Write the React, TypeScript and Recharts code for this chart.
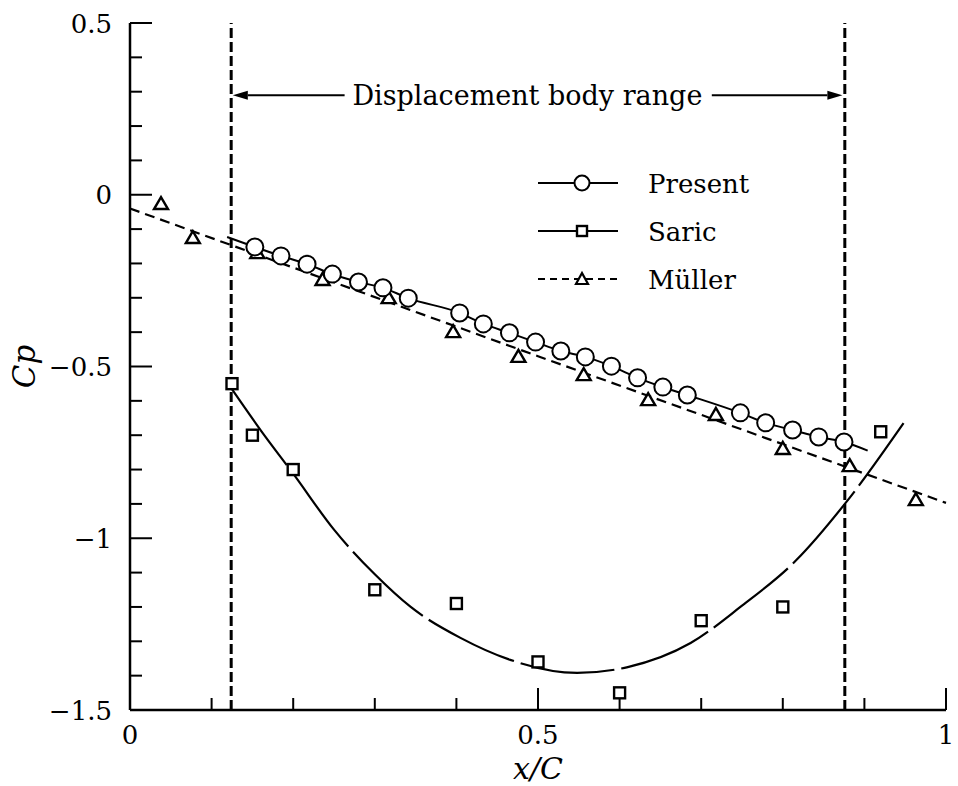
import React from 'react';
import {
  ComposedChart,
  Line,
  Scatter,
  XAxis,
  YAxis,
  ReferenceLine,
  ReferenceDot,
  Legend,
} from 'recharts';

const FONT = "'DejaVu Serif', serif";
const txt = { fontFamily: FONT, fill: '#000' };

// axis ticks (every 0.1) and the labelled ones
const xTicks = [0, 0.1, 0.2, 0.3, 0.4, 0.5, 0.6, 0.7, 0.8, 0.9, 1];
const yTicks = [
  -1.5, -1.4, -1.3, -1.2, -1.1, -1, -0.9, -0.8, -0.7, -0.6, -0.5, -0.4, -0.3, -0.2, -0.1, 0, 0.1, 0.2,
  0.3, 0.4, 0.5,
];
const xLabels = [0, 0.5, 1];
const yLabels = [-1.5, -1, -0.5, 0, 0.5];

// Present (circles) and its solid line
const presentX = [
  0.153, 0.185, 0.217, 0.248, 0.28, 0.31, 0.341, 0.404, 0.433, 0.465, 0.497, 0.528, 0.558, 0.59, 0.622,
  0.653, 0.683, 0.748, 0.779, 0.812, 0.844, 0.875,
];
const presentCp = [
  -0.152, -0.178, -0.202, -0.231, -0.254, -0.271, -0.301, -0.344, -0.376, -0.402, -0.429, -0.455, -0.472,
  -0.499, -0.533, -0.56, -0.583, -0.635, -0.664, -0.685, -0.705, -0.72,
];
const presentEndsX = [0.119, 0.904];
const presentEndsCp = [-0.123, -0.745];

// Saric (squares) and its long-dash curve
const saricX = [0.125, 0.15, 0.2, 0.3, 0.4, 0.5, 0.6, 0.7, 0.8, 0.92];
const saricCp = [-0.55, -0.7, -0.8, -1.15, -1.19, -1.36, -1.45, -1.24, -1.2, -0.69];
const saricCurveX = [
  0.124, 0.16, 0.2, 0.25, 0.3, 0.344, 0.405, 0.466, 0.548, 0.61, 0.687, 0.748, 0.816, 0.877, 0.948,
];
const saricCurveCp = [
  -0.563, -0.685, -0.812, -0.975, -1.105, -1.2, -1.29, -1.354, -1.392, -1.375, -1.305, -1.2, -1.065, -0.897,
  -0.665,
];

// Müller (triangles) and its dashed line
const mullerX = [0.038, 0.077, 0.156, 0.236, 0.317, 0.396, 0.476, 0.556, 0.635, 0.718, 0.8, 0.882, 0.963];
const mullerCp = [
  -0.027, -0.126, -0.17, -0.248, -0.301, -0.4, -0.472, -0.525, -0.598, -0.641, -0.74, -0.79, -0.889,
];
const mullerLineX = [0, 0.5, 1];
const mullerLineCp = [-0.04, -0.47, -0.897];

// displacement body range
const rangeX = [0.124, 0.876];
const arrowCp = 0.29;
const arrowLeftX = [0.263, 0.126];
const arrowRightX = [0.713, 0.873];
const rangeLabelX = 0.487;
const rangeLabel = 'Displacement body range';

const legendNames = ['Present', 'Saric', 'Müller'];

const zip = (xs: number[], ys: number[]) => xs.map((x, i) => ({ x, y: ys[i] }));

const present = zip(presentX, presentCp);
const presentLine = [
  { x: presentEndsX[0], y: presentEndsCp[0] },
  ...present,
  { x: presentEndsX[1], y: presentEndsCp[1] },
];
const saric = zip(saricX, saricCp);
const saricCurve = zip(saricCurveX, saricCurveCp);
const muller = zip(mullerX, mullerCp);
const mullerLine = zip(mullerLineX, mullerLineCp);

const isIn = (v: number, list: number[]) => list.some((m) => Math.abs(m - v) < 1e-6);
const fmt = (v: number) => (v < -1e-9 ? '\u2212' : '') + String(Math.abs(Number(v.toFixed(2))));

const MINOR = 12;
const MAJOR = 22;

const BottomTick = (p: any) => {
  const v = p.payload.value;
  const major = isIn(v, xLabels);
  return (
    <g>
      <line x1={p.x} x2={p.x} y1={p.y} y2={p.y - (major ? MAJOR : MINOR)} stroke="#000" strokeWidth={2} />
      {major && (
        <text x={p.x} y={p.y + 34} textAnchor="middle" fontSize={26} style={txt}>
          {fmt(v)}
        </text>
      )}
    </g>
  );
};

const TopTick = (p: any) => {
  const major = isIn(p.payload.value, xLabels);
  return <line x1={p.x} x2={p.x} y1={p.y} y2={p.y + (major ? MAJOR : MINOR)} stroke="#000" strokeWidth={2} />;
};

const LeftTick = (p: any) => {
  const v = p.payload.value;
  const major = isIn(v, yLabels);
  return (
    <g>
      <line x1={p.x} x2={p.x + (major ? MAJOR : MINOR)} y1={p.y} y2={p.y} stroke="#000" strokeWidth={2} />
      {major && (
        <text x={p.x - 18} y={p.y + 9.5} textAnchor="end" fontSize={26} style={txt}>
          {fmt(v)}
        </text>
      )}
    </g>
  );
};

const RightTick = (p: any) => {
  const major = isIn(p.payload.value, yLabels);
  return <line x1={p.x} x2={p.x - (major ? MAJOR : MINOR)} y1={p.y} y2={p.y} stroke="#000" strokeWidth={2} />;
};

const CircleMark = (p: any) => (
  <circle cx={p.cx} cy={p.cy} r={8.5} fill="#fff" stroke="#000" strokeWidth={2} />
);
const SquareMark = (p: any) => (
  <rect x={p.cx - 5.5} y={p.cy - 5.5} width={11} height={11} fill="#fff" stroke="#000" strokeWidth={2.4} />
);
const TriangleMark = (p: any) => (
  <polygon
    points={`${p.cx},${p.cy - 7} ${p.cx - 7},${p.cy + 5} ${p.cx + 7},${p.cy + 5}`}
    fill="#fff"
    stroke="#000"
    strokeWidth={2.4}
  />
);

const Arrow = (p: any) => {
  const { x1, y1, x2, y2 } = p;
  const dir = Math.sign(x2 - x1);
  const head = 15;
  return (
    <g>
      <line x1={x1} y1={y1} x2={x2 - dir * head} y2={y2} stroke="#000" strokeWidth={2} />
      <polygon
        points={`${x2},${y2} ${x2 - dir * head},${y2 - 4.5} ${x2 - dir * head},${y2 + 4.5}`}
        fill="#000"
      />
    </g>
  );
};

const LegendBox = () => {
  const rows = [
    { dash: undefined, mark: (cx: number, cy: number) => <circle cx={cx} cy={cy} r={7.5} fill="#fff" stroke="#000" strokeWidth={2} /> },
    { dash: undefined, mark: (cx: number, cy: number) => <rect x={cx - 5} y={cy - 5} width={10} height={10} fill="#fff" stroke="#000" strokeWidth={2.4} /> },
    {
      dash: '7 5',
      mark: (cx: number, cy: number) => (
        <polygon points={`${cx},${cy - 6} ${cx - 6},${cy + 5} ${cx + 6},${cy + 5}`} fill="#fff" stroke="#000" strokeWidth={2.2} />
      ),
    },
  ];
  return (
    <svg width={260} height={150}>
      {legendNames.map((name, i) => {
        const cy = 28 + i * 48;
        return (
          <g key={name}>
            <line x1={8} x2={88} y1={cy} y2={cy} stroke="#000" strokeWidth={2} strokeDasharray={rows[i].dash} />
            {rows[i].mark(52, cy)}
            <text x={118} y={cy + 9.5} fontSize={26} style={txt}>
              {name}
            </text>
          </g>
        );
      })}
    </svg>
  );
};

export default function App() {
  return (
    <div style={{ position: 'absolute', left: 0, top: 0, background: '#fff' }}>
      <ComposedChart width={958} height={786} margin={{ top: 23, right: 12, left: 0, bottom: 0 }}>
        <XAxis
          xAxisId={0}
          dataKey="x"
          type="number"
          domain={[0, 1]}
          ticks={xTicks}
          interval={0}
          height={76}
          tickSize={0}
          tickMargin={0}
          tick={BottomTick}
          axisLine={{ stroke: '#000', strokeWidth: 2.5 }}
          label={(p: any) => (
            <text
              x={p.viewBox.x + p.viewBox.width / 2}
              y={p.viewBox.y + 69}
              textAnchor="middle"
              fontSize={30}
              style={{ ...txt, fontStyle: 'italic' }}
            >
              x/C
            </text>
          )}
        />
        <XAxis
          xAxisId="top"
          orientation="top"
          dataKey="x"
          type="number"
          domain={[0, 1]}
          ticks={xTicks}
          interval={0}
          height={0}
          tickSize={0}
          tickMargin={0}
          tick={TopTick}
          axisLine={{ stroke: '#000', strokeWidth: 2.5 }}
        />
        <YAxis
          yAxisId={0}
          dataKey="y"
          type="number"
          domain={[-1.5, 0.5]}
          ticks={yTicks}
          interval={0}
          width={130}
          tickSize={0}
          tickMargin={0}
          tick={LeftTick}
          axisLine={{ stroke: '#000', strokeWidth: 2.5 }}
          label={(p: any) => {
            const cx = p.viewBox.x + 24;
            const cy = p.viewBox.y + p.viewBox.height / 2;
            return (
              <text
                x={cx}
                y={cy}
                transform={`rotate(-90 ${cx} ${cy})`}
                textAnchor="middle"
                dominantBaseline="central"
                fontSize={31}
                style={{ ...txt, fontStyle: 'italic' }}
              >
                Cp
              </text>
            );
          }}
        />
        <YAxis
          yAxisId="right"
          orientation="right"
          dataKey="y"
          type="number"
          domain={[-1.5, 0.5]}
          ticks={yTicks}
          interval={0}
          width={0}
          tickSize={0}
          tickMargin={0}
          tick={RightTick}
          axisLine={{ stroke: '#000', strokeWidth: 2.5 }}
        />

        {rangeX.map((x) => (
          <ReferenceLine key={x} x={x} stroke="#000" strokeWidth={3} strokeDasharray="10 4" />
        ))}
        <ReferenceLine segment={arrowLeftX.map((x) => ({ x, y: arrowCp }))} shape={Arrow} />
        <ReferenceLine segment={arrowRightX.map((x) => ({ x, y: arrowCp }))} shape={Arrow} />
        <ReferenceDot
          x={rangeLabelX}
          y={arrowCp}
          shape={(p: any) => (
            <text x={p.cx} y={p.cy + 10} textAnchor="middle" fontSize={27} style={txt}>
              {rangeLabel}
            </text>
          )}
        />

        <Line
          data={saricCurve}
          dataKey="y"
          type="monotone"
          stroke="#000"
          strokeWidth={2.2}
          strokeDasharray="95 7"
          dot={false}
          activeDot={false}
          isAnimationActive={false}
        />
        <Line
          data={mullerLine}
          dataKey="y"
          type="linear"
          stroke="#000"
          strokeWidth={2.2}
          strokeDasharray="10 6"
          dot={false}
          activeDot={false}
          isAnimationActive={false}
        />
        <Line
          data={presentLine}
          dataKey="y"
          type="monotone"
          stroke="#000"
          strokeWidth={2}
          dot={false}
          activeDot={false}
          isAnimationActive={false}
        />
        <Scatter data={saric} dataKey="y" shape={SquareMark} isAnimationActive={false} />
        <Scatter data={muller} dataKey="y" shape={TriangleMark} isAnimationActive={false} />
        <Scatter data={present} dataKey="y" shape={CircleMark} isAnimationActive={false} />

        <Legend
          layout="horizontal"
          verticalAlign="middle"
          align="center"
          wrapperStyle={{ left: 530, top: 155, width: 260, height: 150 }}
          content={LegendBox}
        />
      </ComposedChart>
    </div>
  );
}
